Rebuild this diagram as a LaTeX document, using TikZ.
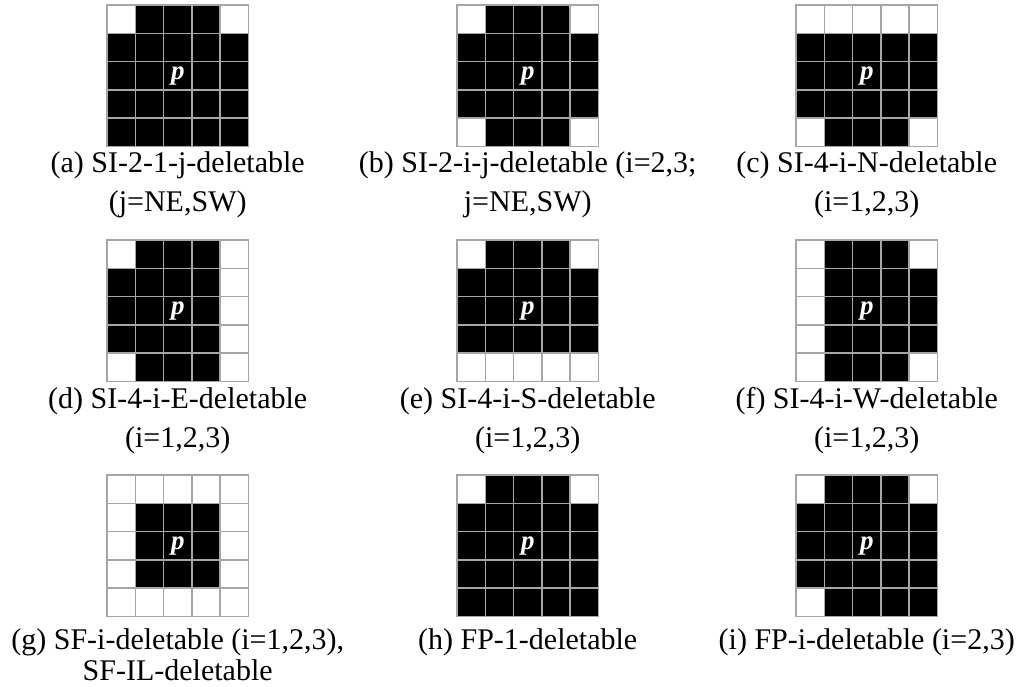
\documentclass[tikz,border=0pt]{standalone}
\usepackage{fontspec}
\setmainfont{Liberation Serif}
\tikzset{
  cellline/.style={draw=gray!70, line width=1.5pt, line cap=rect},
  captext/.style={anchor=base, inner sep=0pt, font=\fontsize{30}{36}\selectfont},
  pmark/.style={text=white, inner sep=0pt, font=\fontsize{27}{30}\selectfont\bfseries\itshape},
}
\def\cs{28.3}
\newcommand{\pxgrid}[4]{%
  \foreach \v [count=\k from 0] in {#4} {
    \pgfmathtruncatemacro\rr{int(\k/5)}
    \pgfmathtruncatemacro\cc{mod(\k,5)}
    \ifnum\v=1
      \fill[black] ({#2+\cc*\cs},{#3+\rr*\cs}) rectangle ++(\cs,\cs);
    \fi
  }
  \foreach \i in {0,...,5} {
    \draw[cellline] ({#2+\i*\cs},#3) -- ++(0,5*\cs);
    \draw[cellline] (#2,{#3+\i*\cs}) -- ++(5*\cs,0);
  }
  \node[pmark] (#1p) at ({#2+2.5*\cs},{#3+2.5*\cs}) {p};
}
\begin{document}
\begin{tikzpicture}[x=1pt,y=-1pt]
\useasboundingbox (0,0) rectangle (1020,687);
% row 1
\pxgrid{a}{107}{5}{0,1,1,1,0, 1,1,1,1,1, 1,1,1,1,1, 1,1,1,1,1, 1,1,1,1,1}
\pxgrid{b}{457}{5}{0,1,1,1,0, 1,1,1,1,1, 1,1,1,1,1, 1,1,1,1,1, 0,1,1,1,0}
\pxgrid{c}{796}{5}{0,0,0,0,0, 1,1,1,1,1, 1,1,1,1,1, 1,1,1,1,1, 0,1,1,1,0}
% row 2
\pxgrid{d}{107}{240}{0,1,1,1,0, 1,1,1,1,0, 1,1,1,1,0, 1,1,1,1,0, 0,1,1,1,0}
\pxgrid{e}{457}{240}{0,1,1,1,0, 1,1,1,1,1, 1,1,1,1,1, 1,1,1,1,1, 0,0,0,0,0}
\pxgrid{f}{796}{240}{0,1,1,1,0, 0,1,1,1,1, 0,1,1,1,1, 0,1,1,1,1, 0,1,1,1,0}
% row 3
\pxgrid{g}{107}{475}{0,0,0,0,0, 0,1,1,1,0, 0,1,1,1,0, 0,1,1,1,0, 0,0,0,0,0}
\pxgrid{h}{457}{475}{0,1,1,1,0, 1,1,1,1,1, 1,1,1,1,1, 1,1,1,1,1, 1,1,1,1,1}
\pxgrid{i}{796}{475}{0,1,1,1,0, 1,1,1,1,1, 1,1,1,1,1, 1,1,1,1,1, 0,1,1,1,1}
% captions
\node[captext] (capa1) at (177.7,173) {(a) SI-2-1-j-deletable};
\node[captext] (capa2) at (177.7,212) {(j=NE,SW)};
\node[captext] (capb1) at (527.7,173) {(b) SI-2-i-j-deletable (i=2,3;};
\node[captext] (capb2) at (527.7,212) {j=NE,SW)};
\node[captext] (capc1) at (866.7,173) {(c) SI-4-i-N-deletable};
\node[captext] (capc2) at (866.7,212) {(i=1,2,3)};
\node[captext] (capd1) at (177.7,408) {(d) SI-4-i-E-deletable};
\node[captext] (capd2) at (177.7,447) {(i=1,2,3)};
\node[captext] (cape1) at (527.7,408) {(e) SI-4-i-S-deletable};
\node[captext] (cape2) at (527.7,447) {(i=1,2,3)};
\node[captext] (capf1) at (866.7,408) {(f) SI-4-i-W-deletable};
\node[captext] (capf2) at (866.7,447) {(i=1,2,3)};
\node[captext] (capg1) at (177.7,649) {(g) SF-i-deletable (i=1,2,3),};
\node[captext] (capg2) at (177.7,680) {SF-IL-deletable};
\node[captext] (caph1) at (527.7,649) {(h) FP-1-deletable};
\node[captext] (capi1) at (866.7,649) {(i) FP-i-deletable (i=2,3)};
\end{tikzpicture}
\end{document}
